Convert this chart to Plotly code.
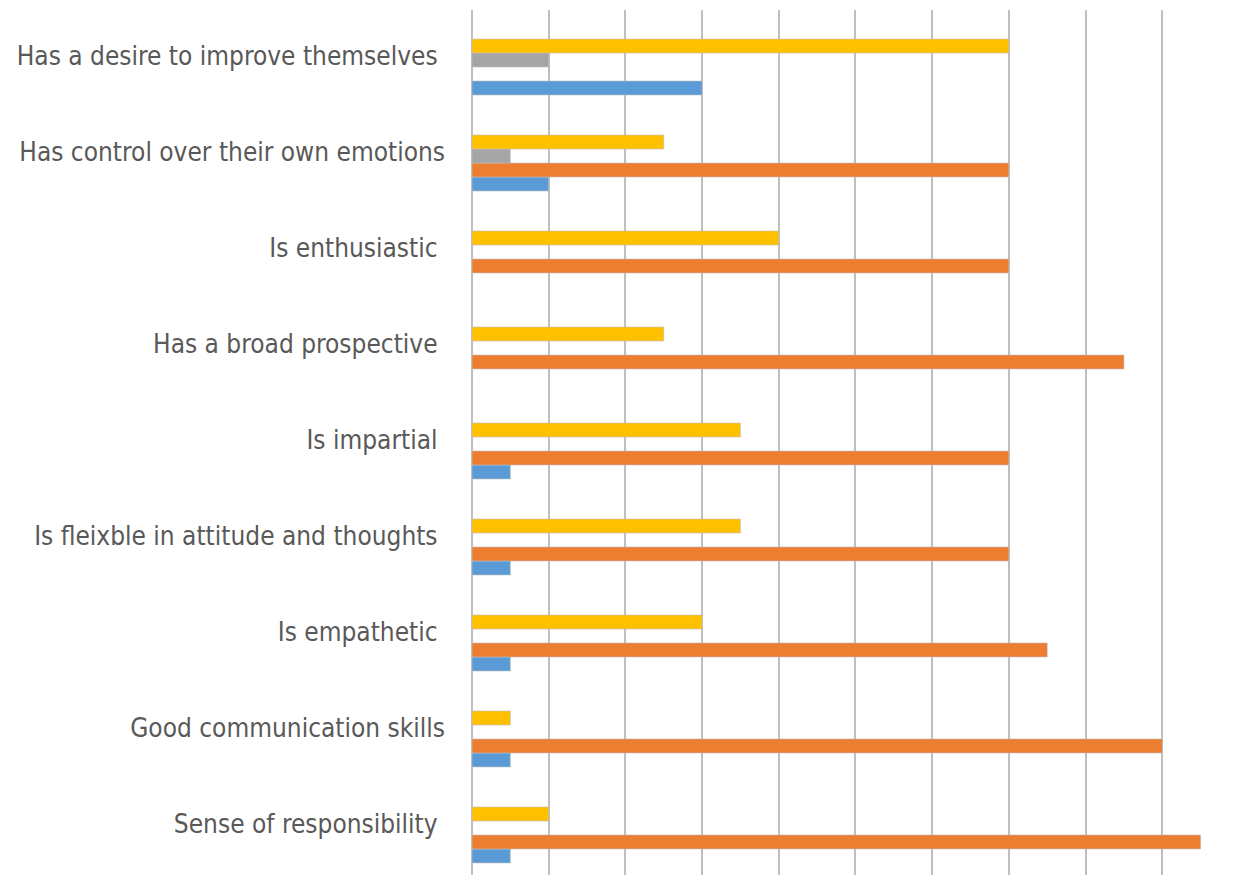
import plotly.graph_objects as go

# Categories listed bottom to top
categories = [
    "Sense of responsibility ",
    "Good communication skills",
    "Is empathetic ",
    "Is fleixble in attitude and thoughts ",
    "Is impartial ",
    "Has a broad prospective ",
    "Is enthusiastic ",
    "Has control over their own emotions",
    "Has a desire to improve themselves ",
]

series_blue = [0.5, 0.5, 0.5, 0.5, 0.5, 0, 0, 1, 3]
series_orange = [9.5, 9, 7.5, 7, 7, 8.5, 7, 7, 0]
series_gray = [0, 0, 0, 0, 0, 0, 0, 0.5, 1]
series_yellow = [1, 0.5, 3, 3.5, 3.5, 2.5, 4, 2.5, 7]

colors = ["#5B9BD5", "#ED7D31", "#A5A5A5", "#FFC000"]
values = [series_blue, series_orange, series_gray, series_yellow]
names = ["Series 1", "Series 2", "Series 3", "Series 4"]

fig = go.Figure()
for name, vals, col in zip(names, values, colors):
    fig.add_trace(go.Bar(
        y=categories, x=vals, orientation="h", name=name,
        marker=dict(color=col, line=dict(color="rgba(190,190,190,0.6)", width=1)),
    ))

fig.update_layout(
    width=1235, height=875,
    margin=dict(l=472, r=0, t=10, b=0),
    barmode="group", bargap=0.417, bargroupgap=0,
    plot_bgcolor="white", paper_bgcolor="white",
    showlegend=False,
    font=dict(family="DejaVu Sans Condensed", size=26, color="#595959"),
)
fig.update_xaxes(
    range=[0, 9.948], tick0=0, dtick=1, showticklabels=False,
    showgrid=True, gridcolor="#BFBFBF", gridwidth=2,
    zeroline=True, zerolinecolor="#BFBFBF", zerolinewidth=2,
    showline=False,
)
fig.update_yaxes(
    type="category", categoryorder="array", categoryarray=categories,
    range=[-0.417, 8.594], showgrid=False, zeroline=False, showline=False,
    ticks="", ticklabelstandoff=26, ticklabelshift=-11,
)

fig.write_html("out.html")
